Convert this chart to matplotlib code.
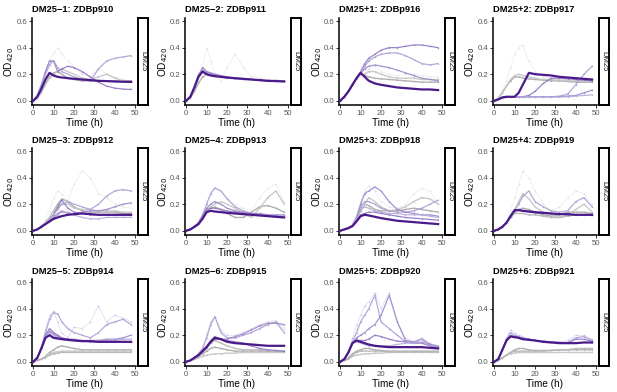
import matplotlib
matplotlib.use("Agg")
import matplotlib.pyplot as plt

plt.rcParams['font.family'] = ['Liberation Sans', 'DejaVu Sans']

# time grid (h)
T = [0, 2, 4, 6, 8, 10, 12, 14, 17, 20, 24, 28, 32, 36, 40, 44, 48]

titles = ["DM25\u22121: ZDBp910", "DM25\u22122: ZDBp911", "DM25+1: ZDBp916", "DM25+2: ZDBp917",
          "DM25\u22123: ZDBp912", "DM25\u22124: ZDBp913", "DM25+3: ZDBp918", "DM25+4: ZDBp919",
          "DM25\u22125: ZDBp914", "DM25\u22126: ZDBp915", "DM25+5: ZDBp920", "DM25+6: ZDBp921"]
strip_label = "DM25"
x_ticks = [0, 10, 20, 30, 40, 50]
y_ticks = [0.0, 0.2, 0.4, 0.6]

# ---- per panel: purple curves (first = dark main), grey curves, cloud (faint dots)
p910_purple = [[0.00,0.03,0.09,0.16,0.21,0.19,0.18,0.175,0.17,0.165,0.16,0.155,0.15,0.148,0.145,0.143,0.142],
               [0.00,0.04,0.12,0.22,0.30,0.30,0.22,0.24,0.26,0.25,0.22,0.18,0.14,0.11,0.095,0.088,0.085],
               [0.00,0.04,0.12,0.20,0.27,0.30,0.25,0.22,0.20,0.18,0.16,0.15,0.24,0.30,0.32,0.33,0.34]]
p910_grey = [[0.00,0.02,0.07,0.13,0.18,0.21,0.22,0.20,0.17,0.16,0.15,0.15,0.15,0.15,0.15,0.15,0.15],
             [0.00,0.02,0.06,0.12,0.17,0.20,0.22,0.24,0.22,0.20,0.17,0.16,0.18,0.20,0.17,0.15,0.14]]
p910_cloud = [0.00,0.03,0.10,0.20,0.30,0.36,0.40,0.35,0.30,0.25,0.20,0.18,0.24,0.20,0.18,0.16,0.15]

p911_purple = [[0.00,0.03,0.10,0.18,0.22,0.20,0.19,0.185,0.18,0.175,0.17,0.165,0.16,0.155,0.15,0.148,0.145],
               [0.00,0.03,0.10,0.19,0.25,0.22,0.21,0.20,0.19,0.18,0.17,0.165,0.16,0.155,0.15,0.148,0.145],
               [0.00,0.03,0.11,0.20,0.23,0.21,0.20,0.19,0.18,0.17,0.165,0.16,0.16,0.155,0.15,0.15,0.148]]
p911_grey = [[0.00,0.02,0.07,0.13,0.18,0.20,0.20,0.19,0.18,0.17,0.17,0.16,0.16,0.155,0.15,0.15,0.15]]
p911_cloud = [0.00,0.02,0.08,0.15,0.25,0.40,0.30,0.20,0.15,0.25,0.35,0.25,0.18,0.17,0.16,0.16,0.15]

p916_purple = [[0.00,0.03,0.07,0.12,0.17,0.21,0.18,0.15,0.13,0.12,0.11,0.10,0.095,0.09,0.085,0.085,0.08],
               [0.00,0.03,0.07,0.12,0.17,0.22,0.28,0.32,0.35,0.38,0.40,0.40,0.41,0.42,0.42,0.41,0.40],
               [0.00,0.03,0.07,0.12,0.17,0.21,0.26,0.30,0.33,0.35,0.36,0.36,0.34,0.31,0.28,0.27,0.28],
               [0.00,0.03,0.07,0.12,0.17,0.21,0.24,0.26,0.27,0.26,0.25,0.23,0.21,0.19,0.17,0.16,0.15]]
p916_grey = [[0.00,0.03,0.07,0.12,0.17,0.20,0.19,0.18,0.17,0.165,0.16,0.155,0.15,0.145,0.14,0.14,0.14],
             [0.00,0.03,0.07,0.12,0.17,0.20,0.20,0.22,0.22,0.20,0.18,0.17,0.17,0.17,0.16,0.16,0.16]]
p916_cloud = [0.0,0.03,0.07,0.12,0.17,0.20,0.20,0.24,0.26,0.22,0.20,0.19,0.20,0.20,0.19,0.18,0.18]

p917_purple = [[0.00,0.01,0.025,0.03,0.03,0.03,0.06,0.12,0.21,0.20,0.195,0.19,0.18,0.175,0.17,0.165,0.16],
               [0.00,0.01,0.025,0.03,0.03,0.03,0.03,0.03,0.04,0.07,0.13,0.17,0.17,0.165,0.16,0.155,0.15],
               [0.00,0.01,0.025,0.03,0.03,0.03,0.03,0.03,0.03,0.03,0.03,0.03,0.035,0.05,0.12,0.20,0.26],
               [0.00,0.01,0.025,0.03,0.03,0.03,0.03,0.03,0.03,0.03,0.03,0.03,0.03,0.035,0.04,0.06,0.08],
               [0.00,0.01,0.02,0.025,0.03,0.03,0.03,0.03,0.03,0.03,0.03,0.03,0.03,0.03,0.035,0.04,0.045]]
p917_grey = [[0.00,0.02,0.06,0.11,0.15,0.18,0.18,0.17,0.165,0.16,0.155,0.15,0.15,0.145,0.14,0.14,0.14],
             [0.00,0.02,0.06,0.11,0.16,0.19,0.20,0.19,0.18,0.17,0.16,0.16,0.155,0.15,0.15,0.15,0.15]]
p917_cloud = [0.00,0.02,0.08,0.15,0.25,0.35,0.40,0.42,0.30,0.22,0.18,0.17,0.16,0.16,0.15,0.15,0.15]

p912_purple = [[0.00,0.01,0.03,0.05,0.07,0.09,0.10,0.11,0.12,0.125,0.13,0.125,0.12,0.12,0.12,0.12,0.12],
               [0.00,0.01,0.03,0.05,0.08,0.12,0.18,0.23,0.17,0.14,0.13,0.12,0.12,0.12,0.115,0.115,0.115],
               [0.00,0.01,0.03,0.05,0.08,0.12,0.16,0.20,0.22,0.20,0.18,0.16,0.20,0.26,0.30,0.31,0.30],
               [0.00,0.01,0.03,0.05,0.07,0.10,0.13,0.15,0.13,0.12,0.14,0.15,0.15,0.16,0.18,0.20,0.21],
               [0.00,0.01,0.03,0.05,0.07,0.09,0.12,0.14,0.14,0.12,0.10,0.09,0.09,0.10,0.10,0.10,0.10]]
p912_grey = [[0.00,0.01,0.03,0.06,0.10,0.15,0.20,0.24,0.22,0.18,0.15,0.14,0.14,0.14,0.14,0.13,0.13],
             [0.00,0.01,0.03,0.06,0.10,0.15,0.18,0.20,0.20,0.17,0.16,0.16,0.15,0.15,0.15,0.14,0.14]]
p912_cloud = [0.00,0.01,0.04,0.08,0.15,0.25,0.30,0.28,0.22,0.35,0.45,0.40,0.28,0.25,0.20,0.18,0.17]

p913_purple = [[0.00,0.01,0.03,0.05,0.09,0.14,0.15,0.145,0.14,0.135,0.13,0.125,0.12,0.115,0.11,0.105,0.10],
               [0.00,0.01,0.03,0.05,0.10,0.15,0.17,0.17,0.16,0.15,0.14,0.13,0.125,0.12,0.115,0.11,0.105],
               [0.00,0.01,0.03,0.06,0.12,0.20,0.28,0.32,0.30,0.24,0.18,0.15,0.13,0.12,0.115,0.11,0.11],
               [0.00,0.01,0.03,0.06,0.11,0.17,0.20,0.22,0.20,0.17,0.15,0.14,0.13,0.13,0.12,0.12,0.12]]
p913_grey = [[0.00,0.01,0.03,0.06,0.11,0.16,0.17,0.18,0.16,0.13,0.10,0.10,0.14,0.18,0.19,0.17,0.14],
             [0.00,0.01,0.03,0.06,0.11,0.16,0.18,0.20,0.22,0.20,0.17,0.13,0.10,0.17,0.25,0.30,0.20]]
p913_cloud = [0.00,0.01,0.03,0.06,0.12,0.20,0.28,0.33,0.30,0.25,0.20,0.17,0.15,0.25,0.32,0.35,0.22]

p918_purple = [[0.00,0.01,0.02,0.035,0.07,0.11,0.12,0.115,0.105,0.095,0.085,0.075,0.07,0.065,0.06,0.055,0.05],
               [0.00,0.01,0.02,0.035,0.08,0.12,0.13,0.14,0.14,0.13,0.12,0.11,0.10,0.095,0.09,0.085,0.08],
               [0.00,0.01,0.02,0.04,0.10,0.18,0.22,0.22,0.20,0.17,0.15,0.14,0.14,0.15,0.17,0.20,0.23],
               [0.00,0.01,0.02,0.04,0.10,0.20,0.28,0.30,0.33,0.30,0.22,0.16,0.14,0.13,0.12,0.12,0.11],
               [0.00,0.01,0.02,0.04,0.09,0.16,0.18,0.17,0.15,0.14,0.13,0.13,0.12,0.12,0.12,0.11,0.10]]
p918_grey = [[0.00,0.01,0.02,0.04,0.09,0.15,0.20,0.19,0.16,0.15,0.15,0.15,0.16,0.17,0.16,0.15,0.14],
             [0.00,0.01,0.02,0.04,0.09,0.16,0.20,0.25,0.22,0.18,0.15,0.16,0.18,0.22,0.25,0.24,0.20]]
p918_cloud = [0.00,0.01,0.02,0.05,0.12,0.22,0.30,0.34,0.30,0.22,0.18,0.17,0.20,0.28,0.32,0.30,0.20]

p919_purple = [[0.00,0.01,0.03,0.06,0.11,0.155,0.155,0.15,0.145,0.14,0.135,0.13,0.125,0.125,0.12,0.12,0.12],
               [0.00,0.01,0.03,0.06,0.11,0.15,0.16,0.15,0.14,0.135,0.13,0.13,0.125,0.12,0.12,0.12,0.115],
               [0.00,0.01,0.03,0.06,0.10,0.15,0.20,0.26,0.30,0.22,0.18,0.15,0.14,0.15,0.22,0.25,0.18]]
p919_grey = [[0.00,0.01,0.03,0.06,0.10,0.14,0.16,0.17,0.16,0.14,0.12,0.11,0.12,0.14,0.14,0.14,0.13],
             [0.00,0.01,0.03,0.06,0.10,0.16,0.22,0.28,0.24,0.18,0.14,0.12,0.10,0.12,0.16,0.20,0.14],
             [0.00,0.01,0.03,0.06,0.10,0.13,0.13,0.13,0.12,0.12,0.11,0.10,0.10,0.11,0.12,0.12,0.12]]
p919_cloud = [0.00,0.01,0.03,0.07,0.15,0.25,0.35,0.45,0.40,0.30,0.20,0.15,0.18,0.25,0.30,0.28,0.20]

p914_purple = [[0.00,0.03,0.10,0.18,0.20,0.18,0.175,0.17,0.165,0.16,0.155,0.155,0.15,0.15,0.15,0.15,0.15],
               [0.00,0.03,0.10,0.20,0.25,0.22,0.20,0.18,0.17,0.16,0.155,0.15,0.15,0.15,0.15,0.15,0.15],
               [0.00,0.03,0.11,0.22,0.32,0.37,0.36,0.30,0.25,0.22,0.20,0.18,0.22,0.28,0.30,0.32,0.28],
               [0.00,0.03,0.10,0.20,0.23,0.21,0.19,0.18,0.17,0.17,0.16,0.16,0.16,0.17,0.17,0.18,0.20],
               [0.00,0.03,0.10,0.19,0.22,0.20,0.18,0.17,0.16,0.16,0.16,0.16,0.16,0.16,0.16,0.17,0.17]]
p914_grey = [[0.00,0.01,0.02,0.04,0.07,0.09,0.11,0.12,0.11,0.10,0.09,0.09,0.09,0.09,0.09,0.09,0.09],
             [0.00,0.01,0.02,0.04,0.06,0.07,0.075,0.08,0.08,0.08,0.08,0.08,0.08,0.08,0.08,0.08,0.08],
             [0.00,0.01,0.02,0.03,0.05,0.06,0.065,0.07,0.07,0.07,0.07,0.07,0.07,0.07,0.07,0.07,0.07]]
p914_cloud = [0.00,0.03,0.12,0.24,0.35,0.38,0.30,0.22,0.18,0.26,0.25,0.30,0.42,0.30,0.35,0.33,0.30]

p915_purple = [[0.00,0.01,0.03,0.05,0.08,0.11,0.15,0.18,0.17,0.15,0.14,0.135,0.13,0.125,0.12,0.12,0.12],
               [0.00,0.01,0.03,0.05,0.08,0.12,0.16,0.19,0.17,0.16,0.15,0.14,0.12,0.10,0.09,0.085,0.08],
               [0.00,0.01,0.03,0.06,0.10,0.18,0.28,0.34,0.22,0.18,0.18,0.20,0.22,0.25,0.28,0.30,0.22],
               [0.00,0.01,0.03,0.05,0.08,0.11,0.15,0.17,0.17,0.17,0.19,0.21,0.24,0.27,0.29,0.29,0.28]]
p915_grey = [[0.00,0.01,0.02,0.04,0.06,0.08,0.10,0.11,0.10,0.09,0.08,0.08,0.08,0.08,0.08,0.075,0.075],
             [0.00,0.01,0.02,0.03,0.04,0.05,0.055,0.06,0.06,0.065,0.065,0.07,0.07,0.07,0.07,0.07,0.07],
             [0.00,0.01,0.02,0.04,0.07,0.10,0.14,0.16,0.14,0.12,0.10,0.09,0.09,0.09,0.08,0.08,0.08]]
p915_cloud = [0.00,0.01,0.03,0.06,0.10,0.20,0.30,0.34,0.24,0.20,0.20,0.22,0.25,0.28,0.30,0.31,0.25]

p920_purple = [[0.00,0.02,0.07,0.14,0.16,0.15,0.14,0.13,0.12,0.115,0.11,0.11,0.11,0.11,0.11,0.105,0.10],
               [0.00,0.02,0.07,0.14,0.16,0.16,0.16,0.17,0.20,0.19,0.17,0.155,0.15,0.14,0.14,0.12,0.11],
               [0.00,0.02,0.07,0.15,0.22,0.30,0.35,0.40,0.50,0.30,0.25,0.20,0.15,0.14,0.15,0.13,0.12],
               [0.00,0.02,0.07,0.14,0.18,0.20,0.22,0.25,0.28,0.35,0.50,0.30,0.16,0.15,0.17,0.13,0.11],
               [0.00,0.02,0.07,0.14,0.15,0.14,0.13,0.12,0.12,0.12,0.12,0.13,0.14,0.14,0.17,0.12,0.12]]
p920_grey = [[0.00,0.01,0.03,0.06,0.08,0.09,0.10,0.10,0.09,0.085,0.08,0.08,0.08,0.08,0.08,0.08,0.08],
             [0.00,0.01,0.02,0.04,0.05,0.055,0.06,0.06,0.065,0.065,0.07,0.07,0.07,0.07,0.07,0.07,0.07],
             [0.00,0.01,0.02,0.05,0.07,0.08,0.08,0.08,0.08,0.08,0.075,0.075,0.075,0.075,0.075,0.075,0.075]]
p920_cloud = [0.00,0.02,0.08,0.18,0.28,0.35,0.42,0.45,0.52,0.40,0.52,0.30,0.18,0.15,0.18,0.14,0.12]

p921_purple = [[0.00,0.02,0.09,0.16,0.19,0.185,0.18,0.17,0.165,0.16,0.15,0.145,0.14,0.14,0.14,0.145,0.145],
               [0.00,0.02,0.09,0.16,0.20,0.19,0.185,0.175,0.17,0.16,0.155,0.15,0.145,0.14,0.17,0.17,0.155],
               [0.00,0.02,0.09,0.17,0.22,0.20,0.19,0.18,0.17,0.16,0.155,0.15,0.145,0.145,0.18,0.19,0.16]]
p921_grey = [[0.00,0.01,0.03,0.05,0.07,0.09,0.10,0.10,0.09,0.085,0.085,0.085,0.09,0.09,0.09,0.09,0.09],
             [0.00,0.01,0.03,0.05,0.06,0.065,0.07,0.07,0.07,0.07,0.07,0.07,0.07,0.07,0.07,0.07,0.07],
             [0.00,0.01,0.03,0.05,0.07,0.08,0.08,0.08,0.08,0.08,0.08,0.085,0.09,0.09,0.10,0.10,0.10]]
p921_cloud = [0.00,0.02,0.09,0.18,0.24,0.22,0.20,0.19,0.17,0.16,0.155,0.15,0.15,0.16,0.20,0.20,0.17]

purples = [p910_purple, p911_purple, p916_purple, p917_purple,
           p912_purple, p913_purple, p918_purple, p919_purple,
           p914_purple, p915_purple, p920_purple, p921_purple]
greys = [p910_grey, p911_grey, p916_grey, p917_grey,
         p912_grey, p913_grey, p918_grey, p919_grey,
         p914_grey, p915_grey, p920_grey, p921_grey]
clouds = [p910_cloud, p911_cloud, p916_cloud, p917_cloud,
          p912_cloud, p913_cloud, p918_cloud, p919_cloud,
          p914_cloud, p915_cloud, p920_cloud, p921_cloud]
cloud_is_purple = [False, False, False, False, False, False, False, False, True, True, True, True]

W, H = 617, 392
fig = plt.figure(figsize=(W / 100, H / 100), dpi=100)

lefts = [32, 185, 339, 493]
tops = [18, 148, 279]
aw, ah = 104, 87

dark_c = "#4b1a8a"
mid_cs = ["#8a70c0", "#a899d2", "#9682c8", "#b3a7d8"]
grey_cs = ["#a8a8a8", "#c4c4c4", "#b6b6b6"]

for i in range(12):
    r, c = divmod(i, 4)
    l, t = lefts[c], tops[r]
    ax = fig.add_axes([l / W, 1 - (t + ah) / H, aw / W, ah / H])
    # cloud of faint points
    ccol = "#a898d4" if cloud_is_purple[i] else "#cccccc"
    ax.plot(T, clouds[i], color=ccol, lw=0.4, alpha=0.5, marker='o', ms=1.2, mew=0, zorder=1)
    for k, g in enumerate(greys[i]):
        ax.plot(T, g, color=grey_cs[k % 3], lw=1.0, alpha=0.9, marker='o', ms=1.0, mew=0, zorder=2)
    pl = purples[i]
    for k, p in enumerate(pl[1:]):
        ax.plot(T, p, color=mid_cs[k % 4], lw=0.9, alpha=0.85, marker='o', ms=1.0, mew=0, zorder=3)
    ax.plot(T, pl[0], color=dark_c, lw=1.6, zorder=4)

    ax.set_xlim(-0.6, 50.4)
    ax.set_ylim(-0.032, 0.623)
    ax.set_xticks(x_ticks)
    ax.set_yticks(y_ticks)
    ax.set_yticklabels([f"{v:.1f}" for v in y_ticks])
    for s in ['top', 'right']:
        ax.spines[s].set_visible(False)
    for s in ['left', 'bottom']:
        ax.spines[s].set_linewidth(1.1)
        ax.spines[s].set_color('black')
    ax.tick_params(length=2.2, width=0.7, colors='#333333', labelsize=5.6, pad=1.2,
                   labelcolor='#555555')
    ax.set_xlabel("Time (h)", fontsize=7.2, labelpad=1.0)
    ax.set_ylabel("OD$_{420}$", fontsize=7.2)
    ax.yaxis.set_label_coords(-15.5 / aw, 0.5)
    fig.text(l / W, 1 - (t - 8) / H, titles[i], fontsize=6.7, fontweight='bold',
             ha='left', va='center')

    sx = fig.add_axes([(l + aw + 2) / W, 1 - (t + ah) / H, 10 / W, ah / H])
    sx.set_xticks([]); sx.set_yticks([])
    for s in sx.spines.values():
        s.set_linewidth(1.4)
        s.set_color('black')
    sx.text(0.5, 0.5, strip_label, rotation=-90, fontsize=5.5, ha='center', va='center',
            color='#1a1a1a', transform=sx.transAxes)

fig.savefig("out.png", dpi=100)
